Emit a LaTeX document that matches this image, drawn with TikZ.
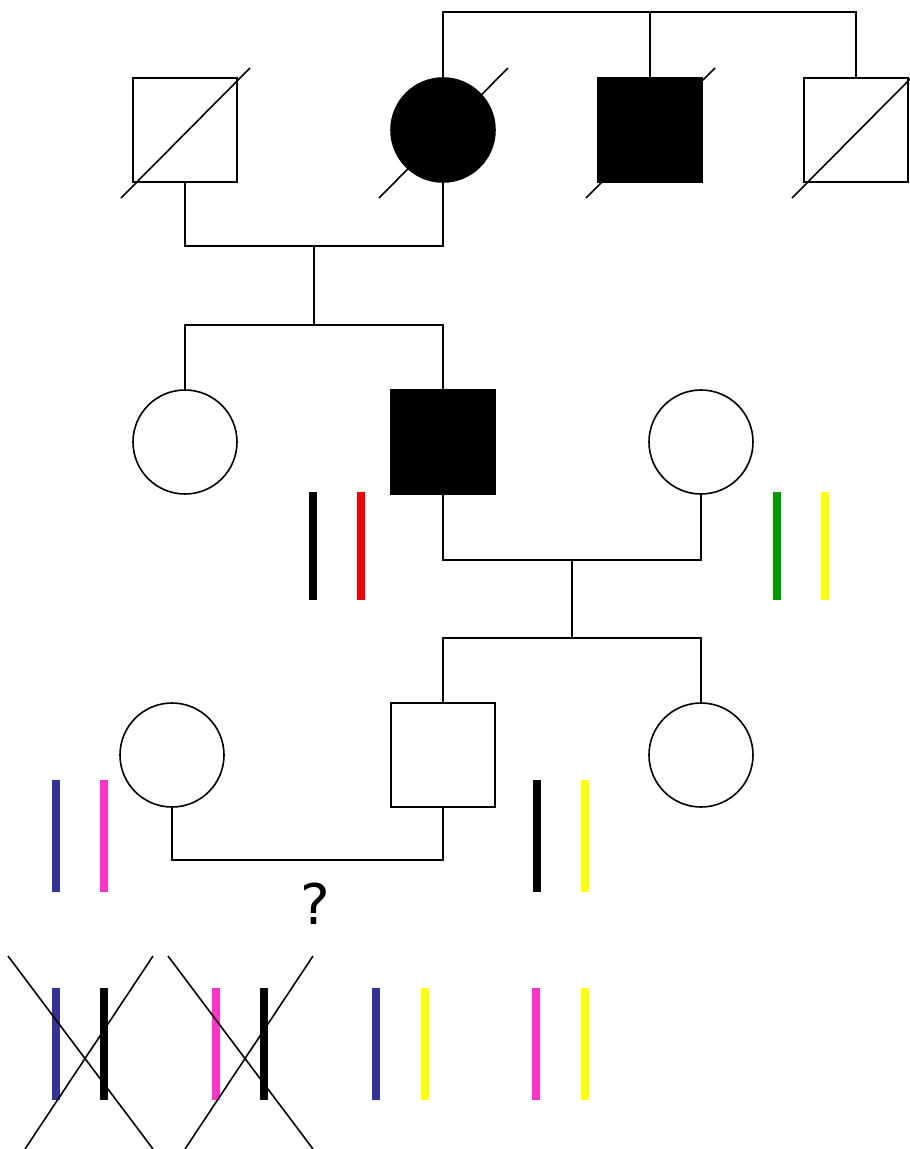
\documentclass[tikz,border=0pt]{standalone}
\usepackage{fontspec}
\setmainfont{DejaVu Sans}
\usetikzlibrary{calc}
\definecolor{cblue}{HTML}{333399}
\definecolor{cpink}{HTML}{FF33CC}
\definecolor{cred}{HTML}{FF0000}
\definecolor{cgreen}{HTML}{009900}
\definecolor{cyellow}{HTML}{FFFF00}
\begin{document}
\begin{tikzpicture}[x=1pt,y=-1pt,line width=1.6pt,
  male/.style={rectangle,draw,minimum size=104pt,inner sep=0pt},
  female/.style={circle,draw,minimum size=104pt,inner sep=0pt},
  affected/.style={fill=black},
  chrom/.style={rectangle,inner sep=0pt,minimum width=8pt,minimum height=#1},
  chrom/.default=108pt,
  slash/.style={line width=1.6pt},
  cross/.style={line width=1.6pt}]
\useasboundingbox (0,0) rectangle (910,1149);
% generation I
\node[male] (gp) at (185,130) {};
\node[female,affected] (gm) at (443,130) {};
\node[male,affected] (gu) at (650,130) {};
\node[male] (gu2) at (856,130) {};
\foreach \n in {gp,gm,gu,gu2}
  \draw[slash] ($(\n.center)+(-64,68)$) -- ($(\n.center)+(65,-62)$);
\coordinate (s0) at (650,12);
\draw (gm.north) |- (s0) -| (gu2.north);
\draw (s0) -- (gu.north);
\coordinate (m1) at (314,246);
\coordinate (c1) at (314,325);
\draw (gp.south) |- (m1) -| (gm.south);
\draw (m1) -- (c1);
% generation II
\node[female] (aunt) at (185,442) {};
\node[male,affected] (father) at (443,442) {};
\node[female] (mother) at (701,442) {};
\draw (aunt.north) |- (c1) -| (father.north);
\node[chrom,fill=black] (fa1) at (313,546) {};
\node[chrom,fill=cred] (fa2) at (361,546) {};
\node[chrom,fill=cgreen] (mo1) at (777,546) {};
\node[chrom,fill=cyellow] (mo2) at (825,546) {};
\coordinate (m2) at (572,560);
\coordinate (c2) at (572,638);
\draw (father.south) |- (m2) -| (mother.south);
\draw (m2) -- (c2);
% generation III
\node[female] (wife) at (172,755) {};
\node[male] (son) at (443,755) {};
\node[female] (daughter) at (701,755) {};
\draw (son.north) |- (c2) -| (daughter.north);
\node[chrom=112pt,fill=cblue] (wi1) at (56,836) {};
\node[chrom=112pt,fill=cpink] (wi2) at (104,836) {};
\node[chrom=112pt,fill=black] (so1) at (537,836) {};
\node[chrom=112pt,fill=cyellow] (so2) at (585,836) {};
\coordinate (m3) at (307,860);
\draw (wife.south) |- (m3) -| (son.south);
\node[font=\fontsize{56}{64}\selectfont,inner sep=0pt,anchor=base] (q) at (315,924) {?};
% offspring combinations
\node[chrom=112pt,fill=cblue] (k1a) at (56,1044) {};
\node[chrom=112pt,fill=black] (k1b) at (104,1044) {};
\node[chrom=112pt,fill=cpink] (k2a) at (216,1044) {};
\node[chrom=112pt,fill=black] (k2b) at (264,1044) {};
\node[chrom=112pt,fill=cblue] (k3a) at (376,1044) {};
\node[chrom=112pt,fill=cyellow] (k3b) at (425,1044) {};
\node[chrom=112pt,fill=cpink] (k4a) at (536,1044) {};
\node[chrom=112pt,fill=cyellow] (k4b) at (585,1044) {};
\coordinate (x1a) at (8,956);
\coordinate (x1b) at (153,1149);
\coordinate (x1c) at (153,956);
\coordinate (x1d) at (25,1149);
\coordinate (x2a) at (168,956);
\coordinate (x2b) at (313,1149);
\coordinate (x2c) at (313,956);
\coordinate (x2d) at (185,1149);
\draw[cross] (x1a) -- (x1b);
\draw[cross] (x1c) -- (x1d);
\draw[cross] (x2a) -- (x2b);
\draw[cross] (x2c) -- (x2d);
\end{tikzpicture}
\end{document}
